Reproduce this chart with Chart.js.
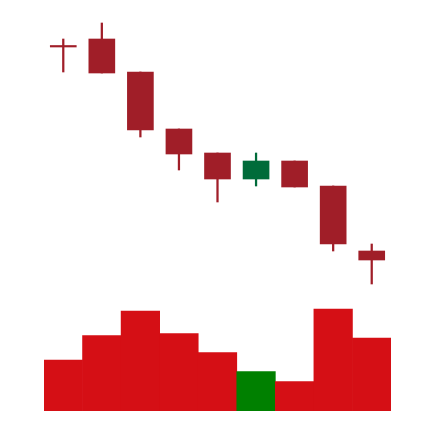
<!DOCTYPE html>
<html>
<head>
<meta charset="utf-8">
<script src="https://cdn.jsdelivr.net/npm/chart.js@4"></script>
<style>
html,body{margin:0;padding:0;background:#fff;}
#wrap{width:434px;height:422px;}
</style>
</head>
<body>
<div id="wrap"><canvas id="c" width="434" height="422"></canvas></div>
<script>
const categories = ['D1','D2','D3','D4','D5','D6','D7','D8','D9'];
const opens  = [47.6, 48.4, 45.1, 39.4, 37.0, 34.4, 36.2, 33.7, 27.2];
const highs  = [48.4, 50.0, 45.1, 39.4, 37.0, 37.0, 36.2, 33.7, 27.9];
const lows   = [45.1, 45.0, 38.6, 35.3, 32.1, 33.7, 33.6, 27.2, 23.9];
const closes = [47.6, 45.0, 39.3, 36.9, 34.4, 36.2, 33.6, 27.9, 26.3];
const volumes = [510, 753, 1000, 773, 583, 393, 293, 1020, 730];

const up = closes.map((c, i) => c > opens[i]);
const candleColors = up.map(u => u ? '#006B3A' : '#A01E28');
const volColors = up.map(u => u ? '#008000' : '#D50F15');

const bodies = opens.map((o, i) => [o, closes[i]]);
const wicks = lows.map((l, i) => [l, highs[i]]);

new Chart(document.getElementById('c'), {
  type: 'bar',
  data: {
    labels: categories,
    datasets: [
      { label: 'wick', data: wicks, yAxisID: 'price', backgroundColor: candleColors,
        barThickness: 1.6, grouped: false, order: 2 },
      { label: 'body', data: bodies, yAxisID: 'price', backgroundColor: candleColors,
        barThickness: 26, minBarLength: 1.5, grouped: false, order: 1 },
      { label: 'volume', data: volumes, yAxisID: 'vol', backgroundColor: volColors,
        barPercentage: 1, categoryPercentage: 1, grouped: false, order: 3 }
    ]
  },
  options: {
    responsive: false,
    animation: false,
    layout: { padding: { left: 44, right: 43, top: 10, bottom: 11 } },
    plugins: { legend: { display: false }, tooltip: { enabled: false } },
    scales: {
      x: { display: false, offset: true },
      price: { display: false, min: 11.2, max: 51.3 },
      vol: { display: false, min: 0, max: 4010 }
    }
  }
});
</script>
</body>
</html>
